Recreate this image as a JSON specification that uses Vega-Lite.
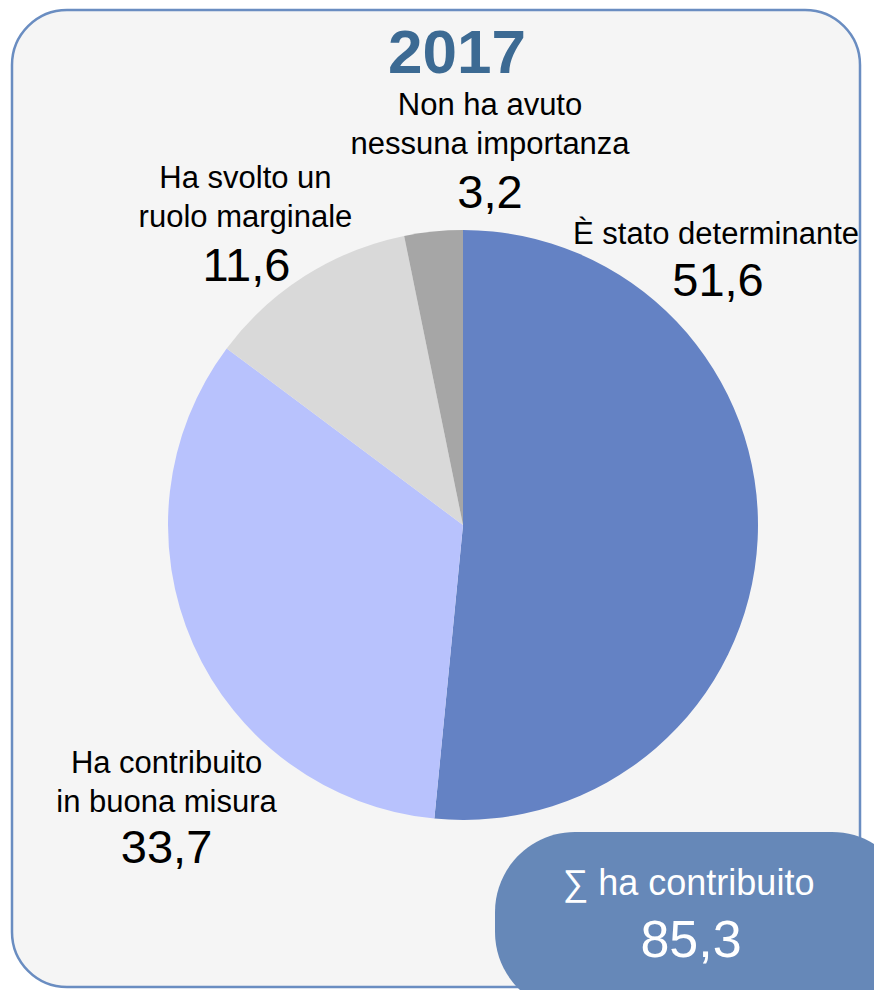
{
  "$schema": "https://vega.github.io/schema/vega-lite/v6.json",
  "width": 848,
  "height": 977,
  "autosize": "none",
  "padding": {"left": 12, "top": 10, "right": 14, "bottom": 3},
  "background": "#ffffff",
  "view": {"fill": "#f5f5f5", "stroke": "#6a8dc1", "strokeWidth": 2.5, "cornerRadius": 55},
  "config": {
    "view": {"fill": "#f5f5f5", "stroke": "#6a8dc1", "strokeWidth": 2.5, "cornerRadius": 55},
    "font": "Liberation Sans",
    "text": {"font": "Liberation Sans"}
  },
  "datasets": {
    "pie": [
      {"cat": "È stato determinante", "name": "È stato determinante", "label": "51,6", "value": 51.6, "ord": 1},
      {"cat": "Ha contribuito in buona misura", "name": "Ha contribuito\nin buona misura", "label": "33,7", "value": 33.7, "ord": 2},
      {"cat": "Ha svolto un ruolo marginale", "name": "Ha svolto un\nruolo marginale", "label": "11,6", "value": 11.6, "ord": 3},
      {"cat": "Non ha avuto nessuna importanza", "name": "Non ha avuto\nnessuna importanza", "label": "3,2", "value": 3.2, "ord": 4}
    ],
    "summary": [
      {"caption": "∑ ha contribuito", "total": "85,3", "year": "2017"}
    ]
  },
  "layer": [
    {
      "data": {"name": "pie"},
      "mark": {"type": "arc", "radius": 295, "xOffset": 27, "yOffset": 26.5},
      "encoding": {
        "theta": {"field": "value", "type": "quantitative", "stack": true},
        "order": {"field": "ord", "type": "quantitative"},
        "color": {
          "field": "cat", "type": "nominal", "legend": null,
          "scale": {
            "domain": ["È stato determinante", "Ha contribuito in buona misura", "Ha svolto un ruolo marginale", "Non ha avuto nessuna importanza"],
            "range": ["#6482c4", "#b8c2fd", "#d9d9d9", "#a6a6a6"]
          }
        }
      }
    },
    {
      "data": {"name": "pie"},
      "mark": {"type": "text", "radius": 330, "xOffset": 27, "yOffset": 26.5, "dx": -76.6, "dy": -296.6, "fontSize": 31, "align": "center", "baseline": "alphabetic", "color": "#000000", "lineBreak": "\n", "lineHeight": 39},
      "encoding": {
        "theta": {"field": "value", "type": "quantitative", "stack": true},
        "order": {"field": "ord", "type": "quantitative"},
        "text": {"condition": {"test": "datum.ord == 1", "field": "name"}, "value": ""}
      }
    },
    {
      "data": {"name": "pie"},
      "mark": {"type": "text", "radius": 330, "xOffset": 27, "yOffset": 26.5, "dx": -74.6, "dy": -244.6, "fontSize": 47, "align": "center", "baseline": "alphabetic", "color": "#000000"},
      "encoding": {
        "theta": {"field": "value", "type": "quantitative", "stack": true},
        "order": {"field": "ord", "type": "quantitative"},
        "text": {"condition": {"test": "datum.ord == 1", "field": "label"}, "value": ""}
      }
    },
    {
      "data": {"name": "pie"},
      "mark": {"type": "text", "radius": 330, "xOffset": 27, "yOffset": 26.5, "dx": 5.4, "dy": 115, "fontSize": 31, "align": "center", "baseline": "alphabetic", "color": "#000000", "lineBreak": "\n", "lineHeight": 39},
      "encoding": {
        "theta": {"field": "value", "type": "quantitative", "stack": true},
        "order": {"field": "ord", "type": "quantitative"},
        "text": {"condition": {"test": "datum.ord == 2", "field": "name"}, "value": ""}
      }
    },
    {
      "data": {"name": "pie"},
      "mark": {"type": "text", "radius": 330, "xOffset": 27, "yOffset": 26.5, "dx": 5.4, "dy": 205, "fontSize": 47, "align": "center", "baseline": "alphabetic", "color": "#000000"},
      "encoding": {
        "theta": {"field": "value", "type": "quantitative", "stack": true},
        "order": {"field": "ord", "type": "quantitative"},
        "text": {"condition": {"test": "datum.ord == 2", "field": "label"}, "value": ""}
      }
    },
    {
      "data": {"name": "pie"},
      "mark": {"type": "text", "radius": 330, "xOffset": 27, "yOffset": 26.5, "dx": -40.9, "dy": -58.3, "fontSize": 31, "align": "center", "baseline": "alphabetic", "color": "#000000", "lineBreak": "\n", "lineHeight": 39},
      "encoding": {
        "theta": {"field": "value", "type": "quantitative", "stack": true},
        "order": {"field": "ord", "type": "quantitative"},
        "text": {"condition": {"test": "datum.ord == 3", "field": "name"}, "value": ""}
      }
    },
    {
      "data": {"name": "pie"},
      "mark": {"type": "text", "radius": 330, "xOffset": 27, "yOffset": 26.5, "dx": -39.9, "dy": 34.7, "fontSize": 47, "align": "center", "baseline": "alphabetic", "color": "#000000"},
      "encoding": {
        "theta": {"field": "value", "type": "quantitative", "stack": true},
        "order": {"field": "ord", "type": "quantitative"},
        "text": {"condition": {"test": "datum.ord == 3", "field": "label"}, "value": ""}
      }
    },
    {
      "data": {"name": "pie"},
      "mark": {"type": "text", "radius": 330, "xOffset": 27, "yOffset": 26.5, "dx": 60.1, "dy": -81.7, "fontSize": 31, "align": "center", "baseline": "alphabetic", "color": "#000000", "lineBreak": "\n", "lineHeight": 39},
      "encoding": {
        "theta": {"field": "value", "type": "quantitative", "stack": true},
        "order": {"field": "ord", "type": "quantitative"},
        "text": {"condition": {"test": "datum.ord == 4", "field": "name"}, "value": ""}
      }
    },
    {
      "data": {"name": "pie"},
      "mark": {"type": "text", "radius": 330, "xOffset": 27, "yOffset": 26.5, "dx": 60.1, "dy": 11.3, "fontSize": 47, "align": "center", "baseline": "alphabetic", "color": "#000000"},
      "encoding": {
        "theta": {"field": "value", "type": "quantitative", "stack": true},
        "order": {"field": "ord", "type": "quantitative"},
        "text": {"condition": {"test": "datum.ord == 4", "field": "label"}, "value": ""}
      }
    },
    {
      "data": {"name": "summary"},
      "mark": {"type": "text", "x": 445, "y": 63, "fontSize": 62, "fontWeight": "bold", "align": "center", "baseline": "alphabetic", "color": "#3c6a93"},
      "encoding": {"text": {"field": "year", "type": "nominal"}}
    },
    {
      "data": {"name": "summary"},
      "mark": {"type": "rect", "x": 483, "x2": 900, "y": 822, "y2": 1002, "cornerRadius": 80, "color": "#6688b8"},
      "encoding": {}
    },
    {
      "data": {"name": "summary"},
      "mark": {"type": "text", "x": 676.5, "y": 885, "fontSize": 36, "align": "center", "baseline": "alphabetic", "color": "#ffffff"},
      "encoding": {"text": {"field": "caption", "type": "nominal"}}
    },
    {
      "data": {"name": "summary"},
      "mark": {"type": "text", "x": 679, "y": 947, "fontSize": 52, "align": "center", "baseline": "alphabetic", "color": "#ffffff"},
      "encoding": {"text": {"field": "total", "type": "nominal"}}
    }
  ]
}
